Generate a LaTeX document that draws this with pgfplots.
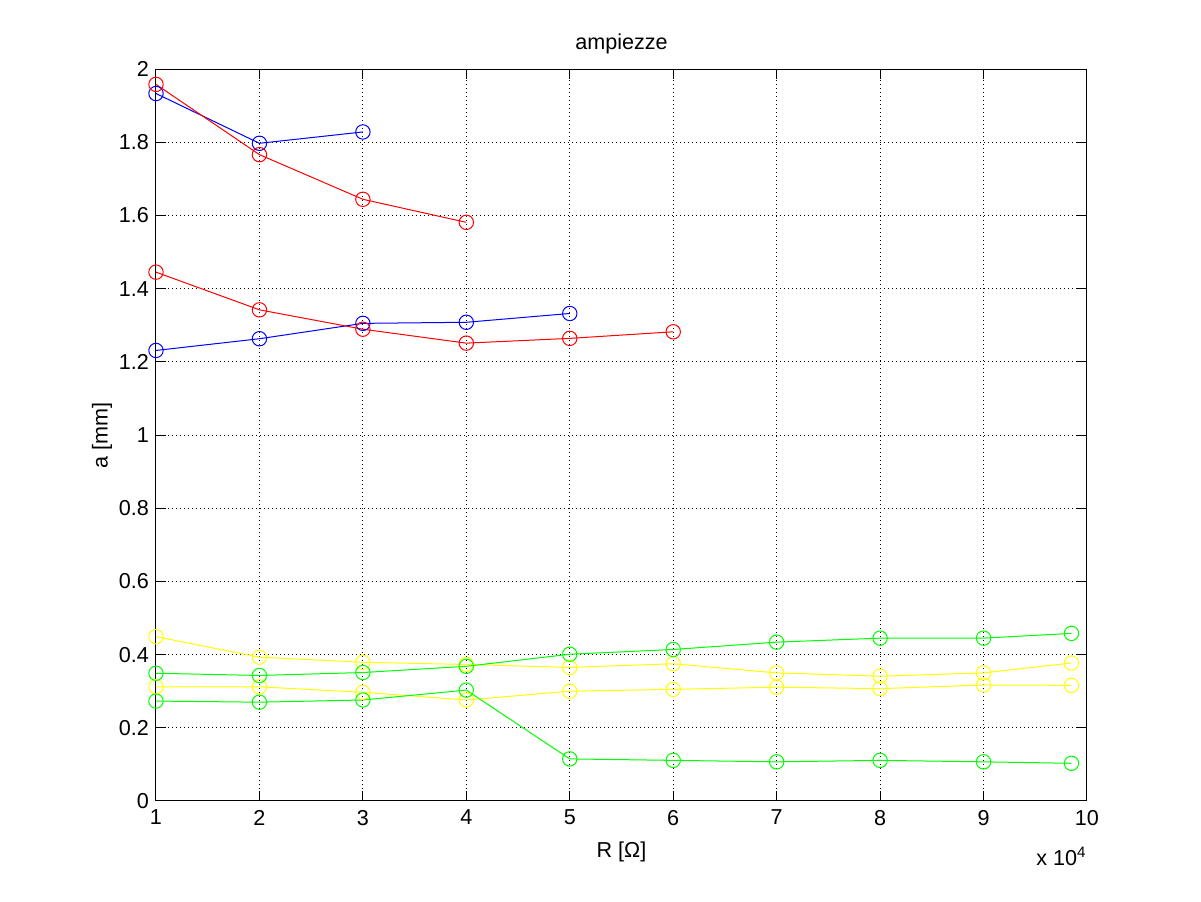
\documentclass[border=0pt]{standalone}
\usepackage{fontspec}
\setmainfont{Liberation Sans}
\usepackage{pgfplots}
\pgfplotsset{compat=1.18}
\begin{document}
\begin{tikzpicture}[x=0.5pt,y=0.5pt]
\path[use as bounding box] (0,0) rectangle (1201,901);
\begin{axis}[
  at={(78pt,50pt)}, anchor=south west,
  scale only axis, width=465.5pt, height=366pt,
  xmin=10000, xmax=100000, ymin=0, ymax=2,
  scaled x ticks=false,
  xtick={10000,20000,30000,40000,50000,60000,70000,80000,90000,100000},
  xticklabels={1,2,3,4,5,6,7,8,9,10},
  ytick={0,0.2,0.4,0.6,0.8,1,1.2,1.4,1.6,1.8,2},
  yticklabels={0,0.2,0.4,0.6,0.8,1,1.2,1.4,1.6,1.8,2},
  tick align=inside, major tick length=5pt,
  tick style={black, line width=0.5pt},
  axis line style={line width=0.5pt},
  grid=major,
  major grid style={black, line width=0.5pt, dash pattern=on 0.5pt off 1.5pt},
  tick label style={font=\fontsize{10.8}{12}\selectfont},
  xticklabel style={yshift=-1pt},
  label style={font=\fontsize{10.8}{12}\selectfont},
  xlabel style={yshift=-1.5pt},
  ylabel style={yshift=-3.5pt},
  title style={font=\fontsize{10.8}{12}\selectfont, yshift=-2pt},
  title={ampiezze},
  xlabel={R [Ω]},
  ylabel={a [mm]},
  every axis plot/.append style={line width=0.5pt, mark=o, mark size=3.6pt, mark options={solid}},
  clip=false,
]
% blue
\addplot[blue] coordinates {(10000,1.933) (20000,1.797) (30000,1.828)};
\addplot[blue] coordinates {(10000,1.231) (20000,1.263) (30000,1.305) (40000,1.308) (50000,1.332)};
% red
\addplot[red] coordinates {(10000,1.958) (20000,1.766) (30000,1.644) (40000,1.581)};
\addplot[red] coordinates {(10000,1.445) (20000,1.342) (30000,1.289) (40000,1.251) (50000,1.264) (60000,1.282)};
% yellow
\addplot[color={rgb,1:red,1;green,1;blue,0}] coordinates {(10000,0.449) (20000,0.393) (30000,0.379) (40000,0.373) (50000,0.365) (60000,0.375) (70000,0.350) (80000,0.341) (90000,0.350) (98500,0.377)};
\addplot[color={rgb,1:red,1;green,1;blue,0}] coordinates {(10000,0.312) (20000,0.312) (30000,0.297) (40000,0.276) (50000,0.300) (60000,0.305) (70000,0.311) (80000,0.307) (90000,0.317) (98500,0.316)};
% green
\addplot[color={rgb,1:red,0;green,1;blue,0}] coordinates {(10000,0.349) (20000,0.343) (30000,0.351) (40000,0.368) (50000,0.401) (60000,0.414) (70000,0.434) (80000,0.445) (90000,0.445) (98500,0.458)};
\addplot[color={rgb,1:red,0;green,1;blue,0}] coordinates {(10000,0.273) (20000,0.270) (30000,0.276) (40000,0.303) (50000,0.115) (60000,0.111) (70000,0.107) (80000,0.111) (90000,0.107) (98500,0.103)};
\node[anchor=north east, font=\fontsize{10.8}{12}\selectfont, inner sep=0pt] at (rel axis cs:1,0) [yshift=-23pt] {x 10\textsuperscript{4}};
\end{axis}
\end{tikzpicture}
\end{document}
